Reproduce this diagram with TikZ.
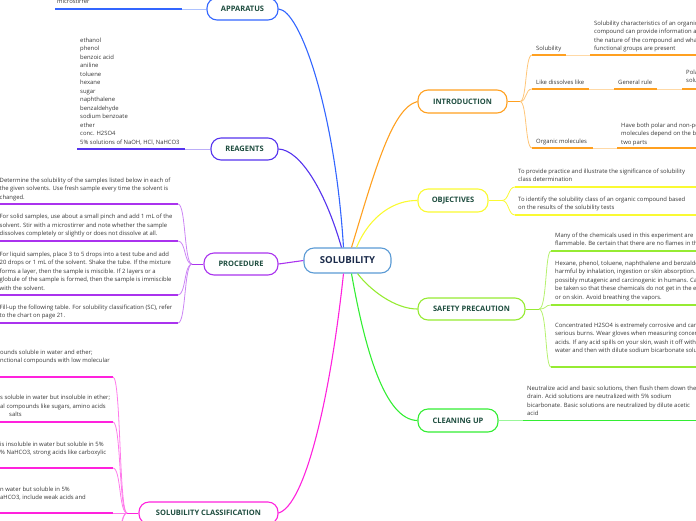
\documentclass[tikz,border=0pt]{standalone}
\usepackage{fontspec}
\setmainfont{Open Sans}
\definecolor{cenb}{RGB}{91,155,213}
\definecolor{cent}{RGB}{26,42,74}
\definecolor{headc}{RGB}{30,77,63}
\definecolor{bodyc}{RGB}{55,55,55}
\definecolor{cApp}{RGB}{51,102,255}
\definecolor{cRea}{RGB}{85,51,238}
\definecolor{cProc}{RGB}{170,51,238}
\definecolor{cSC}{RGB}{255,34,221}
\definecolor{cIntro}{RGB}{255,160,32}
\definecolor{cObj}{RGB}{250,250,50}
\definecolor{cSafe}{RGB}{150,235,50}
\definecolor{cClean}{RGB}{51,238,51}
\tikzset{
  mainbox/.style={draw, line width=1.1pt, rounded corners=10pt, fill=white,
    font=\bfseries\fontsize{7.5}{9}\selectfont, text=headc, minimum height=22pt, inner sep=0pt},
  txt/.style={font=\fontsize{5.9}{8.5}\selectfont, text=bodyc, align=left, inner sep=0pt, anchor=north west},
  uline/.style={line width=1.7pt},
  lite/.style={line width=1pt},
  brk/.style={line width=0.8pt},
  conn/.style={line width=1.1pt},
}
\begin{document}
\begin{tikzpicture}[x=1pt,y=-1pt]
\useasboundingbox (0,0) rectangle (696,520);
\clip (0,0) rectangle (696,520);

% ---------- main nodes ----------
\node[mainbox, draw=cenb, minimum width=87pt, minimum height=25pt,
  font=\bfseries\fontsize{9.6}{11}\selectfont, text=cent] (cen) at (347.5,260.5) {SOLUBILITY};
\node[mainbox, draw=cApp, minimum width=71pt] (app) at (242.5,9) {APPARATUS};
\node[mainbox, draw=cRea, minimum width=67pt] (rea) at (244.5,149) {REAGENTS};
\node[mainbox, draw=cProc, minimum width=74pt] (proc) at (241,264) {PROCEDURE};
\node[mainbox, draw=cSC, minimum width=139pt] (sc) at (208.5,513) {SOLUBILITY CLASSIFICATION};
\node[mainbox, draw=cIntro, minimum width=89pt, minimum height=23pt] (intro) at (462.5,101.5) {INTRODUCTION};
\node[mainbox, draw=cObj, minimum width=70pt, minimum height=23pt] (obj) at (453,200.5) {OBJECTIVES};
\node[mainbox, draw=cSafe, minimum width=107pt] (safe) at (471.5,309) {SAFETY PRECAUTION};
\node[mainbox, draw=cClean, minimum width=80pt, minimum height=23pt] (clean) at (458,420.5) {CLEANING UP};

% ---------- main connectors ----------
\draw[conn, cApp] ([xshift=-4pt]cen.north) .. controls (335,110) and (300,10) .. (app.east);
\draw[conn, cRea] ([xshift=-6pt]cen.north) .. controls (325,190) and (300,150) .. (rea.east);
\draw[conn, cProc] (cen.west) -- (proc.east);
\draw[conn, cSC] ([xshift=-4pt]cen.south) .. controls (330,400) and (305,505) .. (sc.east);
\draw[conn, cIntro] ([xshift=4pt]cen.north) .. controls (375,170) and (392,108) .. (intro.west);
\draw[conn, cObj] ([xshift=9pt]cen.north) .. controls (370,215) and (395,200) .. (obj.west);
\draw[conn, cSafe] ([xshift=10pt]cen.south) .. controls (370,290) and (395,309) .. (safe.west);
\draw[conn, cClean] ([xshift=4pt]cen.south) .. controls (365,350) and (385,420) .. (clean.west);

% ---------- APPARATUS ----------
\node[txt] (appt) at (57,-0.8) {microstirrer};
\coordinate (appa) at (55,9);
\coordinate (appb) at (182,9);
\draw[uline, cApp] (appa) -- (appb);
\draw[lite, cApp!40] (appb) -- (app.west);

% ---------- REAGENTS ----------
\node[txt] (reat) at (80,37.4) {ethanol\\phenol\\benzoic acid\\aniline\\toluene\\hexane\\sugar\\naphthalene\\benzaldehyde\\sodium benzoate\\ether\\conc. H2SO4\\5\% solutions of NaOH, HCl, NaHCO3};
\coordinate (reaa) at (77,149);
\coordinate (reab) at (185,149);
\draw[uline, cRea] (reaa) -- (reab);
\draw[lite, cRea!40] (reab) -- (rea.west);

% ---------- PROCEDURE ----------
\coordinate (pj) at (192,264);
\draw[lite, cProc] (pj) -- (proc.west);
\node[txt] (p1) at (-0.5,177.4) {Determine the solubility of the samples listed below in each of\\the given solvents. Use fresh sample every time the solvent is\\changed.};
\node[txt] (p2) at (-0.5,214.2) {For solid samples, use about a small pinch and add 1 mL of the\\solvent. Stir with a microstirrer and note whether the sample\\dissolves completely or slightly or does not dissolve at all.};
\node[txt] (p3) at (-0.5,251.4) {For liquid samples, place 3 to 5 drops into a test tube and add\\20 drops or 1 mL of the solvent. Shake the tube. If the mixture\\forms a layer, then the sample is miscible. If 2 layers or a\\globule of the sample is formed, then the sample is immiscible\\with the solvent.};
\node[txt] (p4) at (-0.5,304.7) {Fill-up the following table. For solubility classification (SC), refer\\to the chart on page 21.};
\foreach \yy/\nm in {204/pa,241/pb,295/pc,323/pd}{
  \coordinate (\nm0) at (0,\yy);
  \coordinate (\nm1) at (178,\yy);
  \draw[uline, cProc] (\nm0) -- (\nm1);
  \draw[brk, cProc!60] (\nm1) .. controls (186,\yy) and (184,264) .. (pj);
}

% ---------- SOLUBILITY CLASSIFICATION ----------
\coordinate (sj) at (127,513);
\draw[lite, cSC] (sj) -- (sc.west);
\node[txt] (s1) at (0,349.4) {ounds soluble in water and ether;\\nctional compounds with low molecular};
\node[txt] (s2) at (0,395.2) {s soluble in water but insoluble in ether;\\al compounds like sugars, amino acids\\\hspace*{9pt}salts};
\node[txt] (s3) at (0,441.4) {is insoluble in water but soluble in 5\%\\\% NaHCO3, strong acids like carboxylic};
\node[txt] (s4) at (0,486.4) {n water but soluble in 5\%\\aHCO3, include weak acids and};
\foreach \yy/\nm in {377/sa,422/sb,468/sc}{
  \coordinate (\nm0) at (0,\yy);
  \coordinate (\nm1) at (113,\yy);
  \draw[uline, cSC] (\nm0) -- (\nm1);
  \draw[brk, cSC!60] (\nm1) .. controls (121,\yy) and (119,513) .. (sj);
}
\coordinate (sd0) at (0,513);
\coordinate (sd1) at (113,513);
\draw[uline, cSC] (sd0) -- (sd1);
\draw[brk, cSC!60] (sd1) -- (sj);
\coordinate (se1) at (113,560);
\coordinate (sf1) at (113,600);
\draw[brk, cSC!60] (sj) .. controls (120,513) and (121,540) .. (se1);
\draw[brk, cSC!60] (sj) .. controls (119,513) and (120,560) .. (sf1);

% ---------- INTRODUCTION ----------
\coordinate (ij) at (520,101.5);
\draw[lite, cIntro] (intro.east) -- (ij);
\node[txt] (i1) at (536,45.4) {Solubility};
\node[txt] (i1d) at (594,20.4) {Solubility characteristics of an organic\\compound can provide information about\\the nature of the compound and what\\functional groups are present};
\node[txt] (i2) at (536,79.4) {Like dissolves like};
\node[txt] (i2b) at (618,79.4) {General rule};
\node[txt] (i2d) at (686,69.4) {Polar\\solutes};
\node[txt] (i3) at (536,138.4) {Organic molecules};
\node[txt] (i3d) at (621,122.4) {Have both polar and non-polar parts;\\molecules depend on the balance of\\two parts};
\coordinate (ia) at (532,55);
\coordinate (ib) at (532,89);
\coordinate (ic) at (532,148);
\draw[brk, cIntro!60] (ij) .. controls (527,101.5) and (525,55) .. (ia);
\draw[brk, cIntro!60] (ij) .. controls (527,101.5) and (525,89) .. (ib);
\draw[brk, cIntro!60] (ij) .. controls (527,101.5) and (525,148) .. (ic);
\draw[uline, cIntro] (ia) -- (566,55) coordinate (ia1);
\draw[lite, cIntro!40] (ia1) -- (590,55) coordinate (ia2);
\draw[uline, cIntro] (ia2) -- (700,55);
\draw[uline, cIntro] (ib) -- (589,89) coordinate (ib1);
\draw[lite, cIntro!40] (ib1) -- (614,89) coordinate (ib2);
\draw[uline, cIntro] (ib2) -- (657,89) coordinate (ib3);
\draw[lite, cIntro!40] (ib3) -- (682,89) coordinate (ib4);
\draw[uline, cIntro] (ib4) -- (700,89);
\draw[uline, cIntro] (ic) -- (593,148) coordinate (ic1);
\draw[lite, cIntro!40] (ic1) -- (617,148) coordinate (ic2);
\draw[uline, cIntro] (ic2) -- (700,148);

% ---------- OBJECTIVES ----------
\coordinate (oj) at (502,200.5);
\draw[lite, cObj] (obj.east) -- (oj);
\node[txt] (o1) at (518,168.4) {To provide practice and illustrate the significance of solubility\\class determination};
\node[txt] (o2) at (518,196.4) {To identify the solubility class of an organic compound based\\on the results of the solubility tests};
\coordinate (oa) at (515,187);
\coordinate (ob) at (515,215);
\draw[brk, cObj] (oj) .. controls (509,200.5) and (508,187) .. (oa);
\draw[brk, cObj] (oj) .. controls (509,200.5) and (508,215) .. (ob);
\draw[uline, cObj] (oa) -- (700,187);
\draw[uline, cObj] (ob) -- (700,215);

% ---------- SAFETY PRECAUTION ----------
\coordinate (fj) at (539,309);
\draw[lite, cSafe] (safe.east) -- (fj);
\node[txt] (f1) at (555,232.4) {Many of the chemicals used in this experiment are\\flammable. Be certain that there are no flames in the};
\node[txt] (f2) at (555,260.4) {Hexane, phenol, toluene, naphthalene and benzaldehyde are\\harmful by inhalation, ingestion or skin absorption. They are\\possibly mutagenic and carcinogenic in humans. Care must\\be taken so that these chemicals do not get in the eyes\\or on skin. Avoid breathing the vapors.};
\node[txt] (f3) at (555,322.4) {Concentrated H2SO4 is extremely corrosive and can cause\\serious burns. Wear gloves when measuring concentrated\\acids. If any acid spills on your skin, wash it off with\\water and then with dilute sodium bicarbonate solution.};
\coordinate (fa) at (551,251);
\coordinate (fb) at (551,305);
\coordinate (fc) at (551,367);
\draw[brk, cSafe!70] (fj) .. controls (547,309) and (545,251) .. (fa);
\draw[brk, cSafe!70] (fj) .. controls (547,309) and (545,305) .. (fb);
\draw[brk, cSafe!70] (fj) .. controls (547,309) and (545,367) .. (fc);
\draw[uline, cSafe] (fa) -- (700,251);
\draw[uline, cSafe] (fb) -- (700,305);
\draw[uline, cSafe] (fc) -- (700,367);

% ---------- CLEANING UP ----------
\coordinate (cj) at (523,420.5);
\draw[lite, cClean!50] (clean.east) -- (cj);
\node[txt] (c1) at (527,385.4) {Neutralize acid and basic solutions, then flush them down the\\drain. Acid solutions are neutralized with 5\% sodium\\bicarbonate. Basic solutions are neutralized by dilute acetic\\acid};
\draw[uline, cClean] (cj) -- (700,420.5);
\end{tikzpicture}
\end{document}
